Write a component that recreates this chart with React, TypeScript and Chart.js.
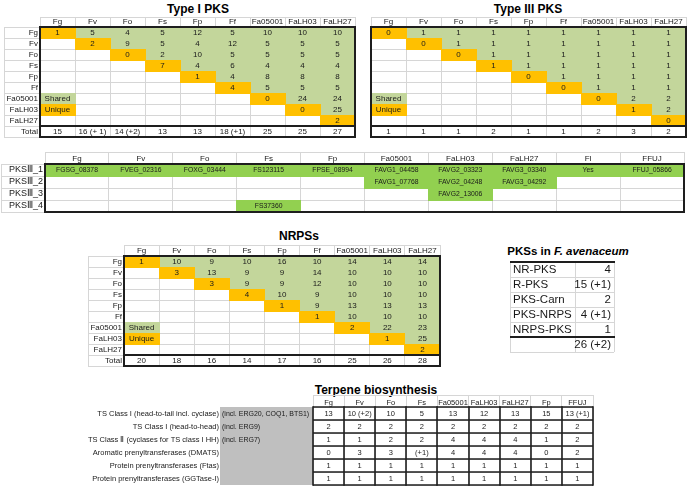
import React, { useEffect, useRef } from "react";
import { Chart, registerables } from "chart.js";
Chart.register(...registerables);

// ---------------- data ----------------
const species = ["Fg", "Fv", "Fo", "Fs", "Fp", "Ff", "Fa05001", "FaLH03", "FaLH27"];
const matrixRows = [...species, "Total"];
const legendLabels = ["Shared", "Unique"];

// upper-triangle rows, each starting at the diagonal (diagonal = unique, rest = shared)
const typeIMatrix: number[][] = [
  [1, 5, 4, 5, 12, 5, 10, 10, 10],
  [2, 9, 5, 4, 12, 5, 5, 5],
  [0, 2, 10, 5, 5, 5, 5],
  [7, 4, 6, 4, 4, 4],
  [1, 4, 8, 8, 8],
  [4, 5, 5, 5],
  [0, 24, 24],
  [0, 25],
  [2],
];
const typeITotals = ["15", "16 (+ 1)", "14 (+2)", "13", "13", "18 (+1)", "25", "25", "27"];

const typeIIIMatrix: number[][] = [
  [0, 1, 1, 1, 1, 1, 1, 1, 1],
  [0, 1, 1, 1, 1, 1, 1, 1],
  [0, 1, 1, 1, 1, 1, 1],
  [1, 1, 1, 1, 1, 1],
  [0, 1, 1, 1, 1],
  [0, 1, 1, 1],
  [0, 2, 2],
  [1, 2],
  [0],
];
const typeIIITotals = ["1", "1", "1", "2", "1", "1", "2", "3", "2"];

const nrpsMatrix: number[][] = [
  [1, 10, 9, 10, 16, 10, 14, 14, 14],
  [3, 13, 9, 9, 14, 10, 10, 10],
  [3, 9, 9, 12, 10, 10, 10],
  [4, 10, 9, 10, 10, 10],
  [1, 9, 13, 13, 13],
  [1, 10, 10, 10],
  [2, 22, 23],
  [1, 25],
  [2],
];
const nrpsTotals = ["20", "18", "16", "14", "17", "16", "25", "26", "28"];

const pks3Columns = ["Fg", "Fv", "Fo", "Fs", "Fp", "Fa05001", "FaLH03", "FaLH27", "Fl", "FFUJ"];
const pks3Rows = ["PKSⅢ_1", "PKSⅢ_2", "PKSⅢ_3", "PKSⅢ_4"];
const pks3Genes: string[][] = [
  ["FGSG_08378", "FVEG_02316", "FOXG_03444", "FS123115", "FPSE_08994", "FAVG1_04458", "FAVG2_03323", "FAVG3_03340", "Yes", "FFUJ_05866"],
  ["", "", "", "", "", "FAVG1_07768", "FAVG2_04248", "FAVG3_04292", "", ""],
  ["", "", "", "", "", "", "FAVG2_13006", "", "", ""],
  ["", "", "", "FS37360", "", "", "", "", "", ""],
];

const pksClasses = ["NR-PKS", "R-PKS", "PKS-Carn", "PKS-NRPS", "NRPS-PKS", ""];
const pksCounts = ["4", "15 (+1)", "2", "4 (+1)", "1", "26 (+2)"];
const pksCountColumn = [""];

const terpColumns = ["Fg", "Fv", "Fo", "Fs", "Fa05001", "FaLH03", "FaLH27", "Fp", "FFUJ"];
const terpRows = [
  "TS Class I (head-to-tail incl. cyclase)",
  "TS Class I (head-to-head)",
  "TS Class Ⅱ (cyclases for TS class I HH)",
  "Aromatic prenyltransferases (DMATS)",
  "Protein prenyltransferases (Ftas)",
  "Protein prenyltransferases (GGTase-I)",
];
const terpNotes = ["(incl. ERG20, COQ1, BTS1)", "(incl. ERG9)", "(incl. ERG7)", "", "", ""];
const terpCounts: string[][] = [
  ["13", "10 (+2)", "10", "5", "13", "12", "13", "15", "13 (+1)"],
  ["2", "2", "2", "2", "2", "2", "2", "2", "2"],
  ["1", "1", "2", "2", "4", "4", "4", "1", "2"],
  ["0", "3", "3", "(+1)", "4", "4", "4", "0", "2"],
  ["1", "1", "1", "1", "1", "1", "1", "1", "1"],
  ["1", "1", "1", "1", "1", "1", "1", "1", "1"],
];

// ---------------- styles ----------------
const FONT = "Arial, 'Liberation Sans', Helvetica, sans-serif";
const GREEN = "#C3D69B";
const ORANGE = "#FFC000";
const BRIGHT_GREEN = "#92D050";
const GRAY = "#BFBFBF";
const GRID = "#D6D6D6";
const DARK = "#1E1E1E";
const TEXT = "#1A1A1A";

// ---------------- plugin ----------------
const crisp = (v: number, w: number) => (Math.round(w) % 2 === 1 ? Math.round(v - 0.5) + 0.5 : Math.round(v));

const tablePlugin = {
  id: "tableDecor",
  beforeDatasetsDraw(chart: any, _a: any, o: any) {
    const { ctx, chartArea: a } = chart;
    const xs = chart.scales.x;
    const ys = chart.scales.y;
    const nx = xs.getLabels().length;
    const ny = ys.getLabels().length;
    const cw = (a.right - a.left) / nx;
    const ch = (a.bottom - a.top) / ny;
    const snap = (v: number) => Math.round(v - 0.5);
    const line = (x1: number, y1: number, x2: number, y2: number, w: number, c: string) => {
      ctx.beginPath();
      ctx.lineWidth = w;
      ctx.strokeStyle = c;
      ctx.moveTo(x1, y1);
      ctx.lineTo(x2, y2);
      ctx.stroke();
    };
    ctx.save();
    if (o.side) {
      ctx.fillStyle = o.side.color;
      ctx.fillRect(a.left - o.side.width, a.top, o.side.width, a.bottom - a.top);
    }
    chart.data.datasets.forEach((ds: any, di: number) => {
      if (!ds.cellFill) return;
      const meta = chart.getDatasetMeta(di);
      ctx.fillStyle = ds.cellFill;
      meta.data.forEach((el: any) => {
        const l = snap(el.x - cw / 2);
        const r = snap(el.x + cw / 2) + 1;
        const t = snap(el.y - ch / 2);
        const b = snap(el.y + ch / 2) + 1;
        ctx.fillRect(l, t, r - l, b - t);
      });
    });
    if (o.labelLeft !== undefined) {
      const x = crisp(o.labelLeft, 1);
      line(x, a.top, x, a.bottom, 1, GRID);
    }
    if (o.headerTop) {
      const y = crisp(xs.top, 1);
      line(a.left, y, a.right + 0.5, y, 1, GRID);
    }
    if (o.cellGrid) {
      const w = o.cellGrid.width;
      for (let i = 0; i <= nx; i++) {
        const x = crisp(xs.getPixelForValue(i - 0.5), w);
        line(x, a.top - w / 2, x, a.bottom + w / 2, w, o.cellGrid.color);
      }
      for (let j = 0; j <= ny; j++) {
        const y = crisp(ys.getPixelForValue(j - 0.5), w);
        line(a.left, y, a.right, y, w, o.cellGrid.color);
      }
    }
    (o.boxes || []).forEach((bx: number[]) => {
      const w = o.boxWidth || 2;
      const x0 = crisp(xs.getPixelForValue(bx[0] - 0.5), w);
      const x1 = crisp(xs.getPixelForValue(bx[2] + 0.5), w);
      const y0 = crisp(ys.getPixelForValue(bx[1] - 0.5), w);
      const y1 = crisp(ys.getPixelForValue(bx[3] + 0.5), w);
      ctx.lineWidth = w;
      ctx.strokeStyle = DARK;
      ctx.strokeRect(x0, y0, x1 - x0, y1 - y0);
    });
    (o.hlines || []).forEach((h: any) => {
      const y = crisp(ys.getPixelForValue(h.r - 0.5), h.w);
      line(h.x0, y, a.right + 1, y, h.w, DARK);
    });
    ctx.textBaseline = "middle";
    ctx.fillStyle = TEXT;
    chart.data.datasets.forEach((ds: any, di: number) => {
      const meta = chart.getDatasetMeta(di);
      ctx.font = `${ds.fontSize || o.fontSize || 8}px ${FONT}`;
      const align = ds.textAlign || "center";
      ctx.textAlign = align;
      meta.data.forEach((el: any, i: number) => {
        const v = ds.data[i].v;
        const x = align === "right" ? el.x + cw / 2 - 3 : el.x;
        ctx.fillText(v, x, el.y + 0.5);
      });
    });
    if (o.side && o.side.notes) {
      ctx.textAlign = "left";
      ctx.font = `${o.side.fontSize || o.fontSize || 8}px ${FONT}`;
      o.side.notes.forEach((n: string, j: number) => {
        ctx.fillText(n, a.left - o.side.width + 2, ys.getPixelForValue(j) + 0.5);
      });
    }
    ctx.restore();
  },
};

// ---------------- config builders ----------------
type TableParams = {
  cols: string[];
  rows: string[];
  datasets: any[];
  labelW: number;
  labelTick: number;
  headerH: number;
  pad: { left: number; top: number; right: number; bottom: number };
  rowFont?: number;
  colFont?: number;
  rowAlign?: "near" | "far";
  rowPad?: number;
  tickColor?: string;
  decor: any;
};

function tableConfig(p: TableParams): any {
  return {
    type: "scatter",
    data: {
      datasets: p.datasets.map((d) => ({ ...d, pointRadius: 0, pointHoverRadius: 0, showLine: false })),
    },
    options: {
      responsive: false,
      animation: false,
      events: [],
      layout: { padding: p.pad },
      plugins: { legend: { display: false }, tooltip: { enabled: false }, tableDecor: p.decor },
      scales: {
        x: {
          type: "category",
          labels: p.cols,
          position: "top",
          offset: true,
          grid: { offset: true, color: GRID, lineWidth: 1, drawTicks: p.headerH > 0, tickLength: p.headerH, drawOnChartArea: true },
          border: { display: false },
          ticks: {
            display: p.headerH > 0,
            autoSkip: false,
            maxRotation: 0,
            minRotation: 0,
            padding: -p.headerH,
            font: { family: FONT, size: p.colFont || 8 },
            color: TEXT,
          },
          afterFit: (s: any) => {
            s.height = p.headerH;
          },
        },
        y: {
          type: "category",
          labels: p.rows,
          position: "left",
          offset: true,
          grid: {
            offset: true,
            color: GRID,
            tickColor: p.tickColor || GRID,
            lineWidth: 1,
            drawTicks: p.labelTick > 0,
            tickLength: p.labelTick,
            drawOnChartArea: true,
          },
          border: { display: false },
          ticks: {
            display: p.labelW > 0,
            autoSkip: false,
            crossAlign: p.rowAlign || "near",
            padding: p.rowPad !== undefined ? p.rowPad : 2 - p.labelTick,
            font: { family: FONT, size: p.rowFont || 8 },
            color: TEXT,
          },
          afterFit: (s: any) => {
            s.width = p.labelW;
          },
        },
      },
    },
    plugins: [tablePlugin],
  };
}

function matrixDatasets(m: number[][], totals: string[]) {
  const shared: any[] = [];
  const unique: any[] = [];
  m.forEach((row, r) =>
    row.forEach((v, k) => {
      const c = r + k;
      const pt = { x: species[c], y: species[r], v: String(v) };
      (k === 0 ? unique : shared).push(pt);
    })
  );
  return [
    { label: "Shared", data: shared, cellFill: GREEN },
    { label: "Unique", data: unique, cellFill: ORANGE },
    { label: "Legend shared", data: [{ x: species[0], y: species[6], v: legendLabels[0] }], cellFill: GREEN },
    { label: "Legend unique", data: [{ x: species[0], y: species[7], v: legendLabels[1] }], cellFill: ORANGE },
    { label: "Total", data: totals.map((t, c) => ({ x: species[c], y: "Total", v: t })) },
  ];
}

const matrixDecor = (labelLeft?: number) => ({
  fontSize: 8,
  headerTop: true,
  labelLeft,
  boxWidth: 2,
  boxes: [
    [0, 0, 8, 8],
    [0, 9, 8, 9],
  ],
});

const typeIConfig = () =>
  tableConfig({
    cols: species,
    rows: matrixRows,
    datasets: matrixDatasets(typeIMatrix, typeITotals),
    labelW: 40,
    labelTick: 36,
    headerH: 10,
    pad: { left: 0, top: 0, right: 2, bottom: 2 },
    decor: matrixDecor(4),
  });

const typeIIIConfig = () =>
  tableConfig({
    cols: species,
    rows: matrixRows,
    datasets: matrixDatasets(typeIIIMatrix, typeIIITotals),
    labelW: 0,
    labelTick: 0,
    headerH: 10,
    rowPad: -10,
    pad: { left: 2, top: 0, right: 2, bottom: 2 },
    decor: matrixDecor(undefined),
  });

const nrpsConfig = () =>
  tableConfig({
    cols: species,
    rows: matrixRows,
    datasets: matrixDatasets(nrpsMatrix, nrpsTotals),
    labelW: 37,
    labelTick: 36,
    headerH: 11,
    pad: { left: 0, top: 0, right: 2, bottom: 2 },
    decor: matrixDecor(1),
  });

const pks3Config = () => {
  const pts: any[] = [];
  pks3Genes.forEach((row, r) =>
    row.forEach((g, c) => {
      if (g) pts.push({ x: pks3Columns[c], y: pks3Rows[r], v: g });
    })
  );
  return tableConfig({
    cols: pks3Columns,
    rows: pks3Rows,
    datasets: [{ label: "Gene", data: pts, cellFill: BRIGHT_GREEN, fontSize: 6.8 }],
    labelW: 45,
    labelTick: 44,
    headerH: 12,
    rowFont: 9,
    pad: { left: 0, top: 0, right: 2, bottom: 2 },
    decor: { fontSize: 7, headerTop: true, labelLeft: 1, boxWidth: 2, boxes: [[0, 0, 9, 3]] },
  });
};

const pksConfig = () =>
  tableConfig({
    cols: pksCountColumn,
    rows: pksClasses,
    datasets: [
      {
        label: "Count",
        data: pksCounts.map((v, r) => ({ x: pksCountColumn[0], y: pksClasses[r], v })),
        textAlign: "right",
        fontSize: 11.5,
      },
    ],
    labelW: 62,
    labelTick: 65,
    headerH: 0,
    rowFont: 11.5,
    rowAlign: "far",
    rowPad: -12,
    pad: { left: 4, top: 1, right: 2, bottom: 2 },
    decor: {
      fontSize: 11.5,
      labelLeft: 1,
      hlines: [
        { r: 0, x0: 1, w: 2 },
        { r: 5, x0: 1, w: 2 },
      ],
    },
  });

const terpConfig = () => {
  const pts: any[] = [];
  terpCounts.forEach((row, r) => row.forEach((v, c) => pts.push({ x: terpColumns[c], y: terpRows[r], v })));
  return tableConfig({
    cols: terpColumns,
    rows: terpRows,
    datasets: [{ label: "Genes", data: pts }],
    labelW: 313,
    labelTick: 100,
    rowPad: -6,
    tickColor: "rgba(0,0,0,0)",
    headerH: 12,
    rowFont: 7.5,
    colFont: 7.5,
    pad: { left: 0, top: 0, right: 2, bottom: 2 },
    decor: {
      fontSize: 7.5,
      headerTop: true,
      cellGrid: { width: 1.6, color: DARK },
      side: { width: 93, color: GRAY, notes: terpNotes, fontSize: 7 },
    },
  });
};

// ---------------- components ----------------
function TableChart(props: { left: number; top: number; width: number; height: number; make: () => any }) {
  const ref = useRef<HTMLCanvasElement>(null);
  useEffect(() => {
    const chart = new Chart(ref.current as HTMLCanvasElement, props.make());
    return () => chart.destroy();
  }, []);
  return (
    <canvas
      ref={ref}
      width={props.width}
      height={props.height}
      style={{ position: "absolute", left: props.left, top: props.top, width: props.width, height: props.height }}
    />
  );
}

function Title(props: { x: number; y: number; size?: number; children: React.ReactNode }) {
  return (
    <div
      style={{
        position: "absolute",
        left: props.x,
        top: props.y,
        transform: "translate(-50%, -50%)",
        font: `bold ${props.size || 12}px ${FONT}`,
        color: "#000",
        whiteSpace: "nowrap",
        lineHeight: 1,
      }}
    >
      {props.children}
    </div>
  );
}

export default function App() {
  return (
    <div style={{ position: "absolute", left: 0, top: 0, width: 689, height: 490, background: "#fff", overflow: "hidden" }}>
      <Title x={198} y={9}>Type I PKS</Title>
      <Title x={528} y={9}>Type III PKS</Title>
      <Title x={299} y={236}>NRPSs</Title>
      <Title x={568} y={252} size={11.5}>
        PKSs in <i>F. avenaceum</i>
      </Title>
      <Title x={376} y={390}>Terpene biosynthesis</Title>
      <TableChart left={0} top={17} width={357} height={122} make={typeIConfig} />
      <TableChart left={369} top={17} width={319} height={122} make={typeIIIConfig} />
      <TableChart left={0} top={152} width={686} height={62} make={pks3Config} />
      <TableChart left={87} top={245} width={355} height={123} make={nrpsConfig} />
      <TableChart left={509} top={261} width={107} height={93} make={pksConfig} />
      <TableChart left={0} top={395} width={595} height={92} make={terpConfig} />
    </div>
  );
}
